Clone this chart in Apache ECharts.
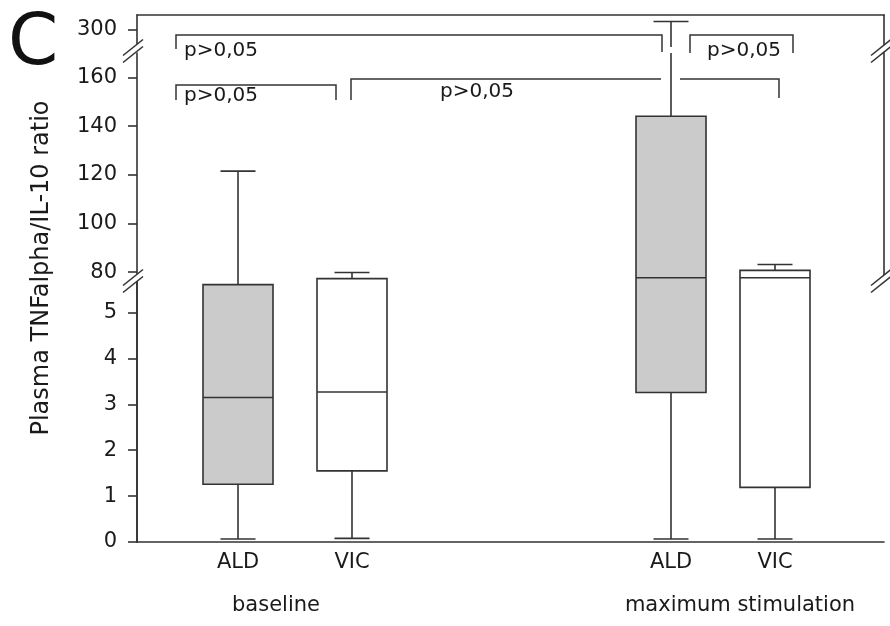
<!DOCTYPE html>
<html>
<head>
<meta charset="utf-8">
<script src="https://cdn.jsdelivr.net/npm/echarts@6/dist/echarts.min.js"></script>
<style>
  html, body { margin: 0; padding: 0; background: #fff; }
  #chart { width: 890px; height: 626px; }
</style>
</head>
<body>
<div id="chart"></div>
<script>
// groups and boxes, left to right
var groupNames = ['baseline', 'maximum stimulation'];
var groupPos = [1.39, 6.03];
var boxNames = ['ALD', 'VIC', 'ALD', 'VIC'];
var boxPos = [1.01, 2.15, 5.34, 6.38];
var whiskerLow = [0.065, 0.08, 0.065, 0.065];
var q1 = [1.26, 1.55, 3.26, 1.19];
var median = [3.15, 3.27, 5.76, 5.76];
var q3 = [5.61, 5.74, 144.1, 80.7];
var whiskerHigh = [121.5, 79.8, 303.3, 83.1];
var boxFill = ['#cbcbcb', '#ffffff', '#cbcbcb', '#ffffff'];

// broken y axis: three segments
var ticksTop = [300];
var ticksMid = [80, 100, 120, 140, 160];
var ticksLow = [0, 1, 2, 3, 4, 5];

var ink = '#333';
var font = 'DejaVu Sans';

var chart = echarts.init(document.getElementById('chart'));

var boxData = boxPos.map(function (x, i) {
    return [x, whiskerLow[i], q1[i], median[i], q3[i], whiskerHigh[i], i];
});

function renderBox(params, api) {
    var x = api.coord([api.value(0), 0])[0];
    var yMin = api.coord([0, api.value(1)])[1];
    var yQ1 = api.coord([0, api.value(2)])[1];
    var yMed = api.coord([0, api.value(3)])[1];
    var yQ3 = api.coord([0, api.value(4)])[1];
    var yMax = api.coord([0, api.value(5)])[1];
    var bw = api.size([0.7, 0])[0];
    var cw = bw / 2;
    var line = { stroke: ink, lineWidth: 1.6 };
    return {
        type: 'group',
        children: [
            { type: 'line', shape: { x1: x, y1: yMax, x2: x, y2: yQ3 }, style: line },
            { type: 'line', shape: { x1: x - cw / 2, y1: yMax, x2: x + cw / 2, y2: yMax }, style: line },
            { type: 'line', shape: { x1: x, y1: yQ1, x2: x, y2: yMin }, style: line },
            { type: 'line', shape: { x1: x - cw / 2, y1: yMin, x2: x + cw / 2, y2: yMin }, style: line },
            { type: 'rect', shape: { x: x - bw / 2, y: yQ3, width: bw, height: yQ1 - yQ3 },
              style: { fill: boxFill[api.value(6)], stroke: ink, lineWidth: 1.6 } },
            { type: 'line', shape: { x1: x - bw / 2, y1: yMed, x2: x + bw / 2, y2: yMed }, style: line }
        ]
    };
}

function leftAxis(grid, min, max, ticks) {
    return {
        type: 'value', gridIndex: grid, min: min, max: max, position: 'left',
        splitLine: { show: false },
        axisLine: { show: true, lineStyle: { color: ink, width: 1.6 } },
        axisTick: { show: true, length: 9, customValues: ticks, lineStyle: { color: ink, width: 1.6 } },
        axisLabel: { customValues: ticks, margin: 20, fontSize: 21, fontFamily: font, color: '#1a1a1a' }
    };
}
function rightAxis(grid, min, max) {
    return {
        type: 'value', gridIndex: grid, min: min, max: max, position: 'right',
        splitLine: { show: false },
        axisLine: { show: true, lineStyle: { color: ink, width: 1.6 } },
        axisTick: { show: false }, axisLabel: { show: false }
    };
}
function hiddenX(grid) {
    return {
        type: 'value', gridIndex: grid, min: 0, max: 7.47,
        axisLine: { show: false }, axisTick: { show: false },
        axisLabel: { show: false }, splitLine: { show: false }
    };
}

// slashes marking the axis break
function breakMark(cx, cy) {
    var d = 7;
    var a1 = [cx - 10, cy + 8 - d / 2], a2 = [cx + 10, cy - 8 - d / 2];
    var b1 = [cx - 10, cy + 8 + d / 2], b2 = [cx + 10, cy - 8 + d / 2];
    return [
        { type: 'polygon', z: 100, shape: { points: [a1, a2, b2, b1] }, style: { fill: '#fff' } },
        { type: 'line', z: 101, shape: { x1: a1[0], y1: a1[1], x2: a2[0], y2: a2[1] }, style: { stroke: ink, lineWidth: 1.6 } },
        { type: 'line', z: 101, shape: { x1: b1[0], y1: b1[1], x2: b2[0], y2: b2[1] }, style: { stroke: ink, lineWidth: 1.6 } }
    ];
}
function bracket(points) {
    return { type: 'polyline', z: 100, shape: { points: points }, style: { stroke: ink, lineWidth: 1.5, fill: null } };
}
function pText(x, y) {
    return { type: 'text', z: 100, x: x, y: y,
        style: { text: 'p>0,05', fontSize: 20, fontFamily: font, fill: '#1a1a1a', verticalAlign: 'middle' } };
}

var graphics = [
    { type: 'text', z: 100, x: 42, y: 268, rotation: Math.PI / 2,
      style: { text: 'Plasma TNFalpha/IL-10 ratio', fontSize: 24, fontFamily: font, fill: '#1a1a1a',
               align: 'center', verticalAlign: 'middle' } },
    bracket([[176, 49], [176, 35], [662, 35], [662, 52]]),
    bracket([[690, 53], [690, 35], [793, 35], [793, 53]]),
    bracket([[176, 100], [176, 85], [336, 85], [336, 100]]),
    bracket([[351, 100], [351, 79], [661, 79]]),
    bracket([[680, 79], [779, 79], [779, 98]]),
    pText(184, 51), pText(707, 51), pText(184, 96), pText(440, 92)
].concat(breakMark(133, 51), breakMark(133, 281), breakMark(881, 51), breakMark(881, 281));

chart.setOption({
    animation: false,
    title: {
        text: 'C', left: 3, top: 4,
        textStyle: { fontSize: 72, fontWeight: 'normal', fontFamily: font, color: '#111' }
    },
    grid: [
        { left: 137, right: 6, top: 15, height: 32 },
        { left: 137, right: 6, top: 53, height: 222 },
        { left: 137, right: 6, top: 275, height: 267 }
    ],
    xAxis: [
        {
            type: 'value', gridIndex: 0, min: 0, max: 7.47, position: 'top',
            axisLine: { show: true, lineStyle: { color: ink, width: 1.6 } },
            axisTick: { show: false }, axisLabel: { show: false }, splitLine: { show: false }
        },
        hiddenX(1),
        {
            type: 'value', gridIndex: 2, min: 0, max: 7.47, position: 'bottom',
            axisLine: { show: true, onZero: false, lineStyle: { color: ink, width: 1.6 } },
            axisTick: { show: false }, splitLine: { show: false },
            axisLabel: {
                customValues: boxPos, margin: 10, fontSize: 21, fontFamily: font, color: '#1a1a1a',
                formatter: function (v) { return boxNames[boxPos.indexOf(v)]; }
            }
        },
        {
            type: 'value', gridIndex: 2, min: 0, max: 7.47, position: 'bottom', offset: 43,
            axisLine: { show: false }, axisTick: { show: false }, splitLine: { show: false },
            axisLabel: {
                customValues: groupPos, margin: 10, fontSize: 21, fontFamily: font, color: '#1a1a1a',
                formatter: function (v) { return groupNames[groupPos.indexOf(v)]; }
            }
        }
    ],
    yAxis: [
        leftAxis(0, 292.8, 306, ticksTop),
        leftAxis(1, 78.8, 170.1, ticksMid),
        leftAxis(2, 0, 5.82, ticksLow),
        rightAxis(0, 292.8, 306),
        rightAxis(1, 78.8, 170.1),
        rightAxis(2, 0, 5.82)
    ],
    series: [0, 1, 2].map(function (g) {
        return {
            type: 'custom', xAxisIndex: g, yAxisIndex: g, clip: true,
            renderItem: renderBox, data: boxData
        };
    }),
    graphic: graphics
});
</script>
</body>
</html>
